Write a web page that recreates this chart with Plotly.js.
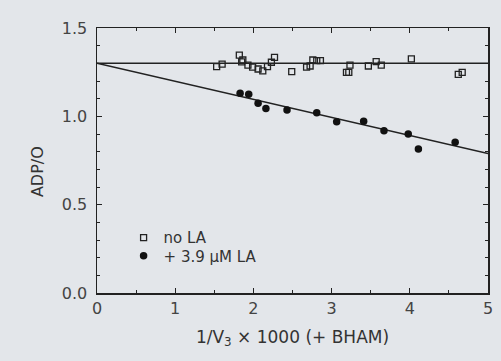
<!DOCTYPE html>
<html>
<head>
<meta charset="utf-8">
<script src="https://cdn.plot.ly/plotly-3.0.1.min.js"></script>
<style>html,body{margin:0;padding:0;background:#e3e6ea;}#chart{width:501px;height:361px;}</style>
</head>
<body>
<div id="chart"></div>
<script>
// no LA (open squares)
const noLA_x = [1.53, 1.60, 1.82, 1.85, 1.865, 1.93, 1.99, 2.06, 2.12, 2.18, 2.23, 2.27, 2.49, 2.68, 2.725, 2.76, 2.81, 2.857, 3.19, 3.22, 3.235, 3.47, 3.57, 3.635, 4.02, 4.62, 4.67];
const noLA_y = [1.281, 1.296, 1.347, 1.308, 1.319, 1.29, 1.278, 1.268, 1.257, 1.281, 1.306, 1.334, 1.253, 1.278, 1.285, 1.319, 1.315, 1.315, 1.249, 1.249, 1.29, 1.285, 1.31, 1.29, 1.325, 1.238, 1.249];
// + 3.9 µM LA (filled circles)
const la_x = [1.83, 1.94, 2.06, 2.16, 2.43, 2.81, 3.065, 3.41, 3.67, 3.98, 4.11, 4.58];
const la_y = [1.13, 1.125, 1.074, 1.045, 1.036, 1.02, 0.97, 0.972, 0.918, 0.90, 0.815, 0.853];
// fitted lines
const fit_x = [0, 5];
const noLA_fit = [1.3, 1.3];
const la_fit = [1.3, 0.79];

const ink = '#222';
const fam = '"DejaVu Sans", "Liberation Sans", Arial, sans-serif';
const traces = [
  {x: fit_x, y: noLA_fit, mode: 'lines', line: {color: ink, width: 1.5}, showlegend: false, hoverinfo: 'skip'},
  {x: fit_x, y: la_fit, mode: 'lines', line: {color: ink, width: 1.5}, showlegend: false, hoverinfo: 'skip'},
  {x: noLA_x, y: noLA_y, mode: 'markers', name: 'no LA', legend: 'legend',
   marker: {symbol: 'square-open', size: 6, color: ink, line: {width: 1.3, color: ink}}},
  {x: la_x, y: la_y, mode: 'markers', name: '+ 3.9 µM LA', legend: 'legend2',
   marker: {symbol: 'circle', size: 7.5, color: '#111'}}
];

const legFont = {family: fam, size: 15, color: '#333'};
const layout = {
  width: 501, height: 361,
  margin: {l: 97, r: 13, t: 28, b: 68},
  paper_bgcolor: '#e3e6ea',
  plot_bgcolor: '#e3e6ea',
  font: {family: fam, size: 16, color: '#333'},
  showlegend: true,
  legend: {x: 0.068, y: 0.208, xanchor: 'left', yanchor: 'middle', bgcolor: 'rgba(0,0,0,0)',
           font: legFont, itemwidth: 30},
  legend2: {x: 0.068, y: 0.140, xanchor: 'left', yanchor: 'middle', bgcolor: 'rgba(0,0,0,0)',
           font: legFont, itemwidth: 30},
  xaxis: {
    range: [0, 5], dtick: 1, tick0: 0,
    showgrid: false, zeroline: false,
    showline: true, linecolor: ink, linewidth: 1.5, mirror: 'allticks',
    ticks: 'inside', ticklen: 5, tickcolor: ink, tickwidth: 1,
    minor: {dtick: 0.5, ticks: 'inside', ticklen: 3, tickcolor: ink, showgrid: false},
    tickfont: {family: fam, size: 16, color: '#444'},
    title: {text: '1/V<sub>3</sub> × 1000 (+ BHAM)', font: {family: fam, size: 17, color: '#333'}, standoff: 14}
  },
  yaxis: {
    range: [0, 1.5], dtick: 0.5, tick0: 0, tickformat: '.1f',
    showgrid: false, zeroline: false,
    showline: true, linecolor: ink, linewidth: 1.5, mirror: 'allticks',
    ticks: 'inside', ticklen: 5, tickcolor: ink, tickwidth: 1, ticklabelstandoff: 5,
    minor: {dtick: 0.1, ticks: 'inside', ticklen: 3, tickcolor: ink, showgrid: false},
    tickfont: {family: fam, size: 16, color: '#444'}
  },
  annotations: [{
    text: 'ADP/O', xref: 'paper', yref: 'paper', x: -0.1535, y: 0.46,
    xanchor: 'center', yanchor: 'middle', textangle: -90, showarrow: false,
    font: {family: fam, size: 16, color: '#333'}
  }]
};
Plotly.newPlot('chart', traces, layout, {displayModeBar: false, staticPlot: true});
</script>
</body>
</html>
